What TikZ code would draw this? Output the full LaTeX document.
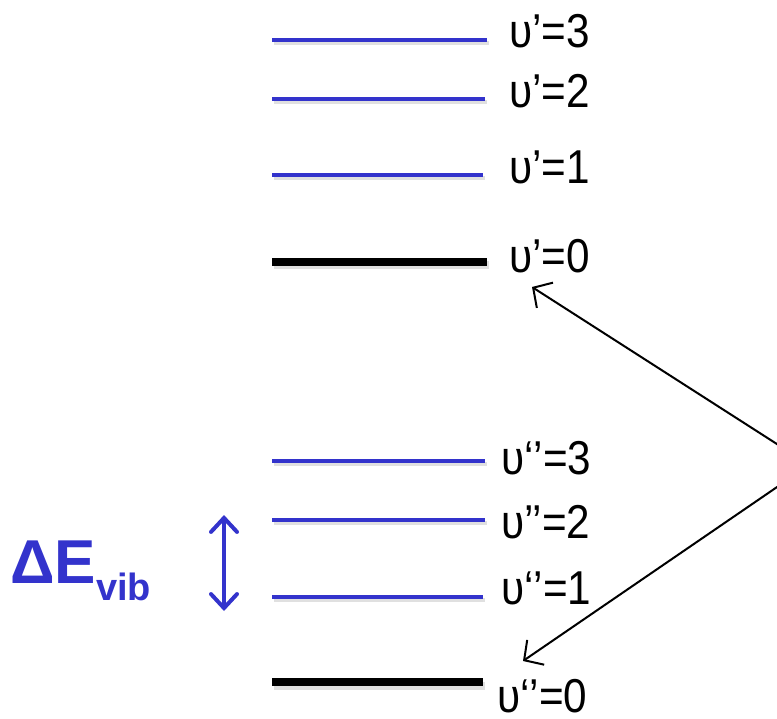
\documentclass[tikz,border=0pt]{standalone}
\usepackage{fontspec}
\setmainfont{Liberation Sans}
\usetikzlibrary{arrows.meta}
\definecolor{lvblue}{RGB}{51,51,204}
\tikzset{
  lvl/.style={line width=4pt, draw=lvblue},
  lvground/.style={line width=8pt, draw=black},
  lvshadow/.style={line width=6pt, draw=black, opacity=0.12},
  lvlabel/.style={anchor=base west, inner sep=0pt, font=\fontsize{44}{50}\selectfont},
  trans/.style={line width=2pt, draw=black, -{Straight Barb[length=14pt,width=30pt,line width=2pt]}},
}
\newcommand{\lvtxt}[1]{\scalebox{0.96}[1.08]{#1}}
\begin{document}
\begin{tikzpicture}[x=1pt,y=-1pt]
\useasboundingbox (0,0) rectangle (777,719);
\clip (0,0) rectangle (777,719);
% shadows
\foreach \xa/\xb/\yy in {272/487/40, 272/485/99, 272/483/175, 272/485/461, 272/485/520, 272/483/597}{
  \draw[lvshadow, line width=4pt] (\xa+2,\yy+3) -- (\xb+2,\yy+3);
}
\draw[lvshadow, line width=8pt] (274,265) -- (489,265);
\draw[lvshadow, line width=8pt] (274,686) -- (485,686);
% upper state levels
\draw[lvl] (272,40) -- (487,40);
\draw[lvl] (272,99) -- (485,99);
\draw[lvl] (272,175) -- (483,175);
\draw[lvground] (272,262) -- (487,262);
% lower state levels
\draw[lvl] (272,461) -- (485,461);
\draw[lvl] (272,520) -- (485,520);
\draw[lvl] (272,597) -- (483,597);
\draw[lvground] (272,682) -- (483,682);
% labels
\node[lvlabel] (u3) at (509,48) {\lvtxt{υ’=3}};
\node[lvlabel] (u2) at (509,108) {\lvtxt{υ’=2}};
\node[lvlabel] (u1) at (509,184) {\lvtxt{υ'=1}};
\node[lvlabel] (u0) at (509,273) {\lvtxt{υ’=0}};
\node[lvlabel] (l3) at (501,474) {\lvtxt{υ‘’=3}};
\node[lvlabel] (l2) at (501,538) {\lvtxt{υ’’=2}};
\node[lvlabel] (l1) at (501,604) {\lvtxt{υ‘’=1}};
\node[lvlabel] (l0) at (497,712) {\lvtxt{υ‘’=0}};
% Delta E vib
\node[anchor=base west, inner sep=0pt, text=lvblue, font=\bfseries\fontsize{62}{70}\selectfont] (dE) at (10,583) {ΔE\raisebox{-0.28em}{\fontsize{38}{40}\selectfont vib}};
\coordinate (dTop) at (224,515);
\coordinate (dBot) at (224,611);
\draw[lvblue, line width=4pt, {Straight Barb[length=14pt,width=26pt,line width=4pt,line cap=round]}-{Straight Barb[length=14pt,width=26pt,line width=4pt,line cap=round]}] (dTop) -- (dBot);
% transitions
\coordinate (apexA) at (780,446);
\coordinate (apexB) at (780,485);
\coordinate (tipA) at (532,287);
\coordinate (tipB) at (523,661);
\draw[trans] (apexA) -- (tipA);
\draw[trans] (apexB) -- (tipB);
\end{tikzpicture}
\end{document}
